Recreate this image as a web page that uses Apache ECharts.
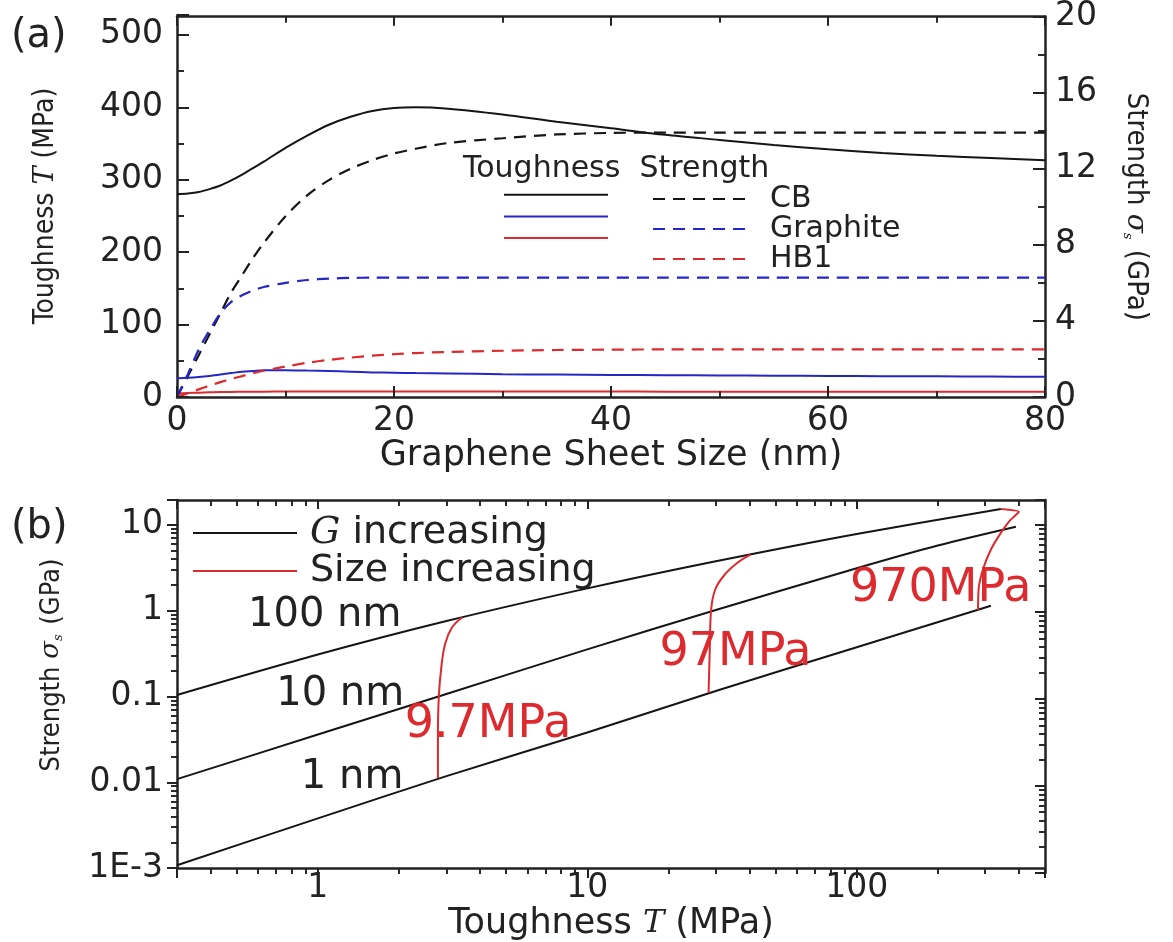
<!DOCTYPE html>
<html>
<head>
<meta charset="utf-8">
<script src="https://cdn.jsdelivr.net/npm/echarts@6/dist/echarts.min.js"></script>
<style>
html, body { margin: 0; padding: 0; background: #fff; }
#main { width: 1173px; height: 942px; }
</style>
</head>
<body>
<div id="main"></div>
<script>
// ---- (a) toughness / strength vs graphene sheet size ----
var sizeNm = [0, 1, 2, 3, 4, 5, 6, 7, 8, 10, 12, 14, 16, 18, 20, 22, 25, 30, 35, 40, 45, 50, 55, 60, 65, 70, 75, 80];
// toughness, MPa
var cbTough = [280, 281, 283, 287, 292, 299, 307, 316, 325, 344, 361, 376, 387, 395, 399, 400, 398, 390, 380, 371, 362, 355, 348, 342, 337, 333, 330, 327];
var graphiteTough = [26, 26.5, 27.5, 29, 31, 33, 35, 36, 37, 37, 36.5, 36, 35, 34, 33.5, 33, 32.5, 31.5, 31, 30.5, 30, 29.8, 29.5, 29, 28.8, 28.5, 28.2, 28];
var hb1Tough = [5, 5.5, 6, 6.5, 7, 7, 7.2, 7.3, 7.4, 7.5, 7.5, 7.5, 7.5, 7.5, 7.5, 7.5, 7.5, 7.5, 7.5, 7.5, 7.4, 7.4, 7.4, 7.4, 7.3, 7.3, 7.3, 7.3];
// strength, GPa
var cbStrength = [0, 1.1, 2.2, 3.3, 4.4, 5.5, 6.4, 7.3, 8.1, 9.5, 10.6, 11.4, 12.0, 12.45, 12.8, 13.05, 13.35, 13.6, 13.8, 13.88, 13.9, 13.9, 13.9, 13.9, 13.9, 13.9, 13.9, 13.9];
var graphiteStrength = [0, 1.2, 2.5, 3.5, 4.4, 5.0, 5.35, 5.6, 5.78, 6.0, 6.15, 6.22, 6.26, 6.27, 6.27, 6.27, 6.27, 6.27, 6.27, 6.27, 6.27, 6.27, 6.27, 6.27, 6.27, 6.27, 6.27, 6.27];
var hb1Strength = [0, 0.2, 0.4, 0.6, 0.78, 0.95, 1.1, 1.25, 1.38, 1.6, 1.8, 1.95, 2.07, 2.17, 2.25, 2.31, 2.37, 2.43, 2.47, 2.49, 2.5, 2.5, 2.5, 2.5, 2.5, 2.5, 2.5, 2.5];

// ---- (b) strength vs toughness, [toughness MPa, strength GPa] ----
var line100nm = [[0.3, 0.104], [1, 0.308], [3, 0.757], [10, 1.82], [30, 3.77], [100, 7.85], [343, 15.3]];
var line10nm = [[0.3, 0.0109], [1, 0.036], [3, 0.107], [10, 0.354], [30, 1.02], [100, 3.12], [200, 5.74], [390, 9.5]];
var line1nm = [[0.3, 0.00108], [1, 0.0038], [3, 0.0118], [10, 0.038], [30, 0.116], [100, 0.375], [315, 1.14]];
var size9_7 = [[2.79, 0.0112], [2.79, 0.033], [2.81, 0.0964], [2.87, 0.214], [2.97, 0.415], [3.15, 0.64], [3.43, 0.834]];
var size97 = [[28.2, 0.11], [28.5, 0.364], [28.8, 1.0], [29.9, 1.79], [32.6, 2.7], [36.4, 3.7], [40.4, 4.5]];
var size970 = [[282, 1.02], [284, 1.89], [296, 3.21], [315, 5.17], [334, 7.11], [358, 9.79], [373, 11.5], [400, 14.2], [343, 15.3]];

// text notes in (b)
var sizeNotes = ['100 nm', '10 nm', '1 nm'];
var sizeNotePos = [[1.06, 0.873], [1.21, 0.104], [1.34, 0.0112]];
var stressNotes = ['9.7MPa', '97MPa', '970MPa'];
var stressNotePos = [[4.28, 0.047], [35.5, 0.318], [205, 1.79]];

var BLACK = '#151515';
var BLUE = '#2626c8';
var RED = '#dc2a2e';
var TXT = '#222';
var FONT = 'DejaVu Sans';
var NARROW = "'Liberation Sans Narrow', 'DejaVu Sans Condensed', 'Liberation Sans', sans-serif";

function pairs(xs, ys) {
    return xs.map(function (x, i) { return [x, ys[i]]; });
}

function decadeLabel(v) {
    var l = Math.log10(v);
    if (Math.abs(l - Math.round(l)) > 1e-6) return '';
    if (v < 0.005) return '1E-3';
    return String(+v.toPrecision(3));
}

function axisLine() {
    return { show: true, onZero: false, lineStyle: { color: TXT, width: 2.5 } };
}
function tickLabel(extra) {
    return Object.assign({ fontFamily: FONT, fontSize: 33, color: TXT }, extra);
}
function nameRich(size) {
    return {
        i: { fontFamily: 'DejaVu Serif', fontStyle: 'italic', fontSize: size, color: TXT },
        s: { fontFamily: 'DejaVu Serif', fontStyle: 'italic', fontSize: 13, color: TXT, verticalAlign: 'bottom', padding: [13, 2, 0, 0] }
    };
}
function ticks(inside, len) {
    return { show: true, inside: inside, length: len, lineStyle: { color: TXT, width: 2 } };
}
function minor(n, len) {
    return { show: true, splitNumber: n, length: len, lineStyle: { color: TXT, width: 1.6 } };
}

var myChart = echarts.init(document.getElementById('main'));

var gridA = { left: 177, top: 15, width: 868, height: 382 };
var gridB = { left: 177, top: 500, width: 868, height: 373 };

var option = {
    backgroundColor: '#fff',
    animation: false,
    title: [
        { text: '(a)', left: 6, top: 12, textStyle: { fontFamily: FONT, fontSize: 40, fontWeight: 'normal', color: TXT } },
        { text: '(b)', left: 6, top: 503, textStyle: { fontFamily: FONT, fontSize: 40, fontWeight: 'normal', color: TXT } },
        { text: 'Toughness  Strength', left: 458, top: 149, textStyle: { fontFamily: FONT, fontSize: 30, fontWeight: 'normal', color: TXT } }
    ],
    legend: [
        {
            data: ['CB toughness', 'Graphite toughness', 'HB1 toughness'],
            left: 503, top: 184, orient: 'vertical', padding: 0,
            itemWidth: 104, itemHeight: 27, itemGap: 0, selectedMode: false,
            itemStyle: { opacity: 0, color: 'rgba(0,0,0,0)', borderWidth: 0 },
            formatter: function () { return ''; },
            textStyle: { fontSize: 2, lineHeight: 27 }
        },
        {
            data: ['CB', 'Graphite', 'HB1'],
            left: 652, top: 184, orient: 'vertical', padding: 0,
            itemWidth: 100, itemHeight: 27, itemGap: 0, selectedMode: false,
            itemStyle: { opacity: 0, color: 'rgba(0,0,0,0)', borderWidth: 0 },
            textStyle: { fontFamily: FONT, fontSize: 30, color: TXT, lineHeight: 27, padding: [0, 0, 0, 12] }
        },
        {
            data: ['G increasing', 'Size increasing'],
            left: 192, top: 514, orient: 'vertical', padding: 0,
            itemWidth: 104, itemHeight: 32, itemGap: 0, selectedMode: false,
            itemStyle: { opacity: 0, color: 'rgba(0,0,0,0)', borderWidth: 0 },
            formatter: function (name) {
                return name === 'G increasing' ? '{g|G} increasing' : name;
            },
            textStyle: {
                fontFamily: FONT, fontSize: 38, color: TXT, lineHeight: 32, padding: [0, 0, 0, 8],
                rich: { g: { fontFamily: 'DejaVu Serif', fontStyle: 'italic', fontSize: 38, color: TXT } }
            }
        }
    ],
    // bottom/left and top/right axes of each panel sit on two grids with the same box
    grid: [gridA, Object.assign({}, gridA), gridB, Object.assign({}, gridB)],
    xAxis: [
        {
            gridIndex: 0, type: 'value', min: 0, max: 80, interval: 20, position: 'bottom',
            axisLine: axisLine(), axisTick: ticks(true, 11), minorTick: minor(2, 6),
            axisLabel: tickLabel({ margin: 8 }), splitLine: { show: false },
            name: 'Graphene Sheet Size (nm)', nameLocation: 'middle', nameGap: 36,
            nameTextStyle: { fontFamily: FONT, fontSize: 35, color: TXT }
        },
        {
            gridIndex: 1, type: 'value', min: 0, max: 80, interval: 20, position: 'top',
            axisLine: axisLine(), axisTick: ticks(true, 9), minorTick: minor(2, 6),
            axisLabel: { show: false }, splitLine: { show: false }
        },
        {
            gridIndex: 2, type: 'log', logBase: 10, min: 0.3, max: 500, position: 'bottom',
            axisLine: axisLine(), axisTick: ticks(false, 10), minorTick: minor(9, 6),
            axisLabel: tickLabel({ margin: 4, formatter: decadeLabel }), splitLine: { show: false },
            name: 'Toughness {i|T} (MPa)', nameLocation: 'middle', nameGap: 27,
            nameTextStyle: { fontFamily: FONT, fontSize: 35, color: TXT, rich: nameRich(32) }
        },
        {
            gridIndex: 3, type: 'log', logBase: 10, min: 0.3, max: 500, position: 'top',
            axisLine: axisLine(), axisTick: ticks(true, 9), minorTick: minor(9, 6),
            axisLabel: { show: false }, splitLine: { show: false }
        }
    ],
    yAxis: [
        {
            gridIndex: 0, type: 'value', min: 0, max: 527.5, interval: 100, position: 'left',
            axisLine: axisLine(), axisTick: ticks(true, 12), minorTick: minor(2, 7),
            axisLabel: tickLabel({ margin: 14, formatter: function (v) { return v % 100 === 0 ? String(v) : ''; } }),
            splitLine: { show: false },
            name: 'Toughness {i|T} (MPa)', nameLocation: 'middle', nameGap: 117,
            nameTextStyle: { fontFamily: NARROW, fontSize: 28, color: TXT, rich: nameRich(27) }
        },
        {
            gridIndex: 1, type: 'value', min: 0, max: 20, interval: 4, position: 'right',
            axisLine: axisLine(), axisTick: ticks(true, 12), minorTick: minor(2, 7),
            axisLabel: tickLabel({ margin: 10 }), splitLine: { show: false },
            name: 'Strength {i|σ}{s|s} (GPa)', nameLocation: 'middle', nameGap: 76, nameRotate: -90,
            nameTextStyle: { fontFamily: NARROW, fontSize: 29, color: TXT, rich: nameRich(28) }
        },
        {
            gridIndex: 2, type: 'log', logBase: 10, min: 0.001, max: 19.5, position: 'left',
            axisLine: axisLine(), axisTick: ticks(false, 10), minorTick: minor(9, 6),
            axisLabel: tickLabel({ margin: 14, formatter: decadeLabel }), splitLine: { show: false },
            name: 'Strength {i|σ}{s|s} (GPa)', nameLocation: 'middle', nameGap: 112,
            nameTextStyle: { fontFamily: NARROW, fontSize: 27, color: TXT, rich: nameRich(26), padding: [0, 0, 0, 38] }
        },
        {
            gridIndex: 3, type: 'log', logBase: 10, min: 0.001, max: 19.5, position: 'right',
            axisLine: axisLine(), axisTick: ticks(true, 10), minorTick: minor(9, 6),
            axisLabel: { show: false }, splitLine: { show: false }
        }
    ],
    series: [
        // (a) toughness, left axis
        { name: 'CB toughness', type: 'line', xAxisIndex: 0, yAxisIndex: 0, data: pairs(sizeNm, cbTough), smooth: 0.3, symbol: 'none', color: BLACK, lineStyle: { color: BLACK, width: 2 } },
        { name: 'Graphite toughness', type: 'line', xAxisIndex: 0, yAxisIndex: 0, data: pairs(sizeNm, graphiteTough), smooth: 0.3, symbol: 'none', color: BLUE, lineStyle: { color: BLUE, width: 2 } },
        { name: 'HB1 toughness', type: 'line', xAxisIndex: 0, yAxisIndex: 0, data: pairs(sizeNm, hb1Tough), smooth: 0.3, symbol: 'none', color: RED, lineStyle: { color: RED, width: 2 } },
        // (a) strength, right axis
        { name: 'CB', type: 'line', xAxisIndex: 1, yAxisIndex: 1, data: pairs(sizeNm, cbStrength), smooth: 0.3, symbol: 'none', color: BLACK, lineStyle: { color: BLACK, width: 2.2, type: [12, 8] } },
        { name: 'Graphite', type: 'line', xAxisIndex: 1, yAxisIndex: 1, data: pairs(sizeNm, graphiteStrength), smooth: 0.3, symbol: 'none', color: BLUE, lineStyle: { color: BLUE, width: 2.2, type: [12, 8] } },
        { name: 'HB1', type: 'line', xAxisIndex: 1, yAxisIndex: 1, data: pairs(sizeNm, hb1Strength), smooth: 0.3, symbol: 'none', color: RED, lineStyle: { color: RED, width: 2.2, type: [12, 8] } },
        // (b) constant size, G increasing
        { name: 'G increasing', type: 'line', xAxisIndex: 2, yAxisIndex: 2, data: line100nm, smooth: 0.3, symbol: 'none', color: BLACK, lineStyle: { color: BLACK, width: 2 } },
        { name: 'G increasing', type: 'line', xAxisIndex: 2, yAxisIndex: 2, data: line10nm, smooth: 0.3, symbol: 'none', color: BLACK, lineStyle: { color: BLACK, width: 2 } },
        { name: 'G increasing', type: 'line', xAxisIndex: 2, yAxisIndex: 2, data: line1nm, smooth: 0.3, symbol: 'none', color: BLACK, lineStyle: { color: BLACK, width: 2 } },
        // (b) constant toughness, size increasing
        { name: 'Size increasing', type: 'line', xAxisIndex: 2, yAxisIndex: 2, data: size9_7, smooth: 0.4, symbol: 'none', color: RED, lineStyle: { color: RED, width: 2 } },
        { name: 'Size increasing', type: 'line', xAxisIndex: 2, yAxisIndex: 2, data: size97, smooth: 0.4, symbol: 'none', color: RED, lineStyle: { color: RED, width: 2 } },
        { name: 'Size increasing', type: 'line', xAxisIndex: 2, yAxisIndex: 2, data: size970, smooth: 0.2, symbol: 'none', color: RED, lineStyle: { color: RED, width: 2 } },
        // (b) notes
        {
            name: 'size notes', type: 'scatter', xAxisIndex: 2, yAxisIndex: 2, symbolSize: 0, z: 5,
            itemStyle: { opacity: 1 },
            data: sizeNotePos.map(function (p, i) { return { value: p, name: sizeNotes[i] }; }),
            label: { show: true, position: 'inside', formatter: '{b}', fontFamily: FONT, fontSize: 40, color: TXT, opacity: 1 }
        },
        {
            name: 'stress notes', type: 'scatter', xAxisIndex: 2, yAxisIndex: 2, symbolSize: 0, z: 5,
            itemStyle: { opacity: 1 },
            data: stressNotePos.map(function (p, i) { return { value: p, name: stressNotes[i] }; }),
            label: { show: true, position: 'inside', formatter: '{b}', fontFamily: FONT, fontSize: 46, color: RED, opacity: 1 }
        }
    ]
};

myChart.setOption(option);

// Some of the axis tick strokes the library builds never reach the canvas here.
// Re-add a copy of each tick segment it laid out, on top of everything else.
function repaintTicks() {
    try {
        var zr = myChart.getZr();
        zr.storage.getDisplayList(true).forEach(function (el) {
            if (el.type !== 'line' || el.__tickCopy) return;
            var s = el.shape;
            if (Math.abs(s.x2 - s.x1) + Math.abs(s.y2 - s.y1) >= 15) return;
            var m = el.transform;
            function tf(x, y) {
                return m ? [m[0] * x + m[2] * y + m[4], m[1] * x + m[3] * y + m[5]] : [x, y];
            }
            var p1 = tf(s.x1, s.y1), p2 = tf(s.x2, s.y2);
            var copy = new echarts.graphic.Line({
                shape: { x1: p1[0], y1: p1[1], x2: p2[0], y2: p2[1] },
                style: { stroke: el.style.stroke || TXT, lineWidth: el.style.lineWidth || 2 },
                z: 100, silent: true
            });
            copy.__tickCopy = true;
            zr.add(copy);
        });
        zr.refreshImmediately();
    } catch (e) { }
}
repaintTicks();
</script>
</body>
</html>
